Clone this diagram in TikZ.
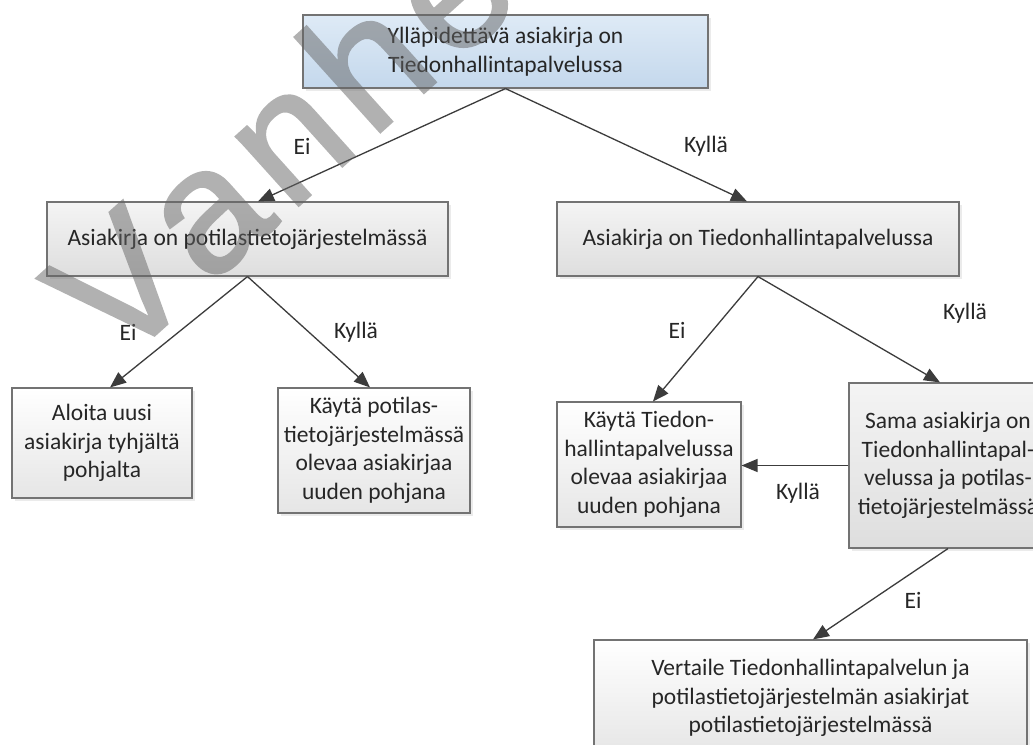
\documentclass[tikz,border=0pt]{standalone}
\usepackage{fontspec}
\setmainfont{Carlito}
\newfontfamily\wmfont[FakeBold=1.5]{Liberation Sans}
\usetikzlibrary{arrows.meta,shadows,calc}
\definecolor{linec}{RGB}{60,60,60}
\definecolor{boxline}{RGB}{115,115,115}
\definecolor{bluetop}{RGB}{222,234,246}
\definecolor{bluebot}{RGB}{196,216,236}
\definecolor{graytop}{RGB}{244,244,244}
\definecolor{graybot}{RGB}{222,222,222}
\definecolor{wmgray}{RGB}{100,100,100}
\begin{document}
\begin{tikzpicture}[x=1pt,y=-1pt,
  txt/.style={font=\fontsize{23.5}{28.5}\selectfont, text=black!85},
  box/.style={txt, draw=boxline, line width=1.1pt, align=center, inner sep=0pt,
    drop shadow={shadow xshift=3pt,shadow yshift=-3pt,fill=black!15},
    top color=graytop, bottom color=graybot},
  bluebox/.style={box, top color=bluetop, bottom color=bluebot},
  lightbox/.style={box, top color=white, bottom color=black!10},
  conn/.style={draw=linec, line width=1.3pt, -{Triangle[length=16pt,width=13pt]}},
  lbl/.style={txt},
  wm/.style={font=\wmfont\fontsize{176}{176}\selectfont, text=wmgray, inner sep=0pt}
]
\useasboundingbox (0,0) rectangle (1033,744);
\fill[white] (0,0) rectangle (1033,744);

\node[bluebox, minimum width=405pt, minimum height=73pt] (top) at (505.5,51.5)
  {Ylläpidettävä asiakirja on\\Tiedonhallintapalvelussa};
\node[box, minimum width=401pt, minimum height=74pt] (lm) at (247.5,239)
  {Asiakirja on potilastietojärjestelmässä};
\node[box, minimum width=402pt, minimum height=74pt] (rm) at (758,239)
  {Asiakirja on Tiedonhallintapalvelussa};
\node[lightbox, minimum width=180pt, minimum height=110pt] (aloita) at (102,443)
  {Aloita uusi\\asiakirja tyhjältä\\pohjalta};
\node[lightbox, minimum width=192pt, minimum height=125pt] (kpot) at (374,450.5)
  {Käytä potilas-\\tietojärjestelmässä\\olevaa asiakirjaa\\uuden pohjana};
\node[lightbox, minimum width=184pt, minimum height=125pt] (ktied) at (649,464.5)
  {Käytä Tiedon-\\hallintapalvelussa\\olevaa asiakirjaa\\uuden pohjana};
\node[box, minimum width=198pt, minimum height=165pt] (sama) at (948,465.5)
  {Sama asiakirja on\\Tiedonhallintapal-\\velussa ja potilas-\\tietojärjestelmässä};
\node[lightbox, minimum width=433pt, minimum height=116pt] (vert) at (810.5,698)
  {Vertaile Tiedonhallintapalvelun ja\\potilastietojärjestelmän asiakirjat\\potilastietojärjestelmässä};

\draw[conn] (top.south) -- ([xshift=10.5pt]lm.north);
\draw[conn] (top.south) -- ([xshift=-11pt]rm.north);
\draw[conn] (lm.south) -- ([xshift=8pt]aloita.north);
\draw[conn] (lm.south) -- ([xshift=-4pt]kpot.north);
\draw[conn] (rm.south) -- ([xshift=4pt]ktied.north);
\draw[conn] (rm.south) -- ([xshift=-8pt]sama.north);
\draw[conn] (sama.west) -- (sama.west -| ktied.east);
\draw[conn] (sama.south) -- ([xshift=2.5pt]vert.north);

\node[lbl] (l1) at (302,146) {Ei};
\node[lbl] (l2) at (706,146) {Kyllä};
\node[lbl] (l3) at (128,332) {Ei};
\node[lbl] (l4) at (356,332) {Kyllä};
\node[lbl] (l5) at (677,330) {Ei};
\node[lbl] (l6) at (965,313) {Kyllä};
\node[lbl] (l7) at (798,493) {Kyllä};
\node[lbl] (l8) at (913,600) {Ei};

\begin{scope}[transparency group, opacity=0.5]
\node[wm, rotate=42, anchor=base west] (wmark) at (117,369)
  {V\kern5pt a\kern12pt n\kern12pt h\kern12pt e\kern12pt ntunut};
\end{scope}
\end{tikzpicture}
\end{document}
